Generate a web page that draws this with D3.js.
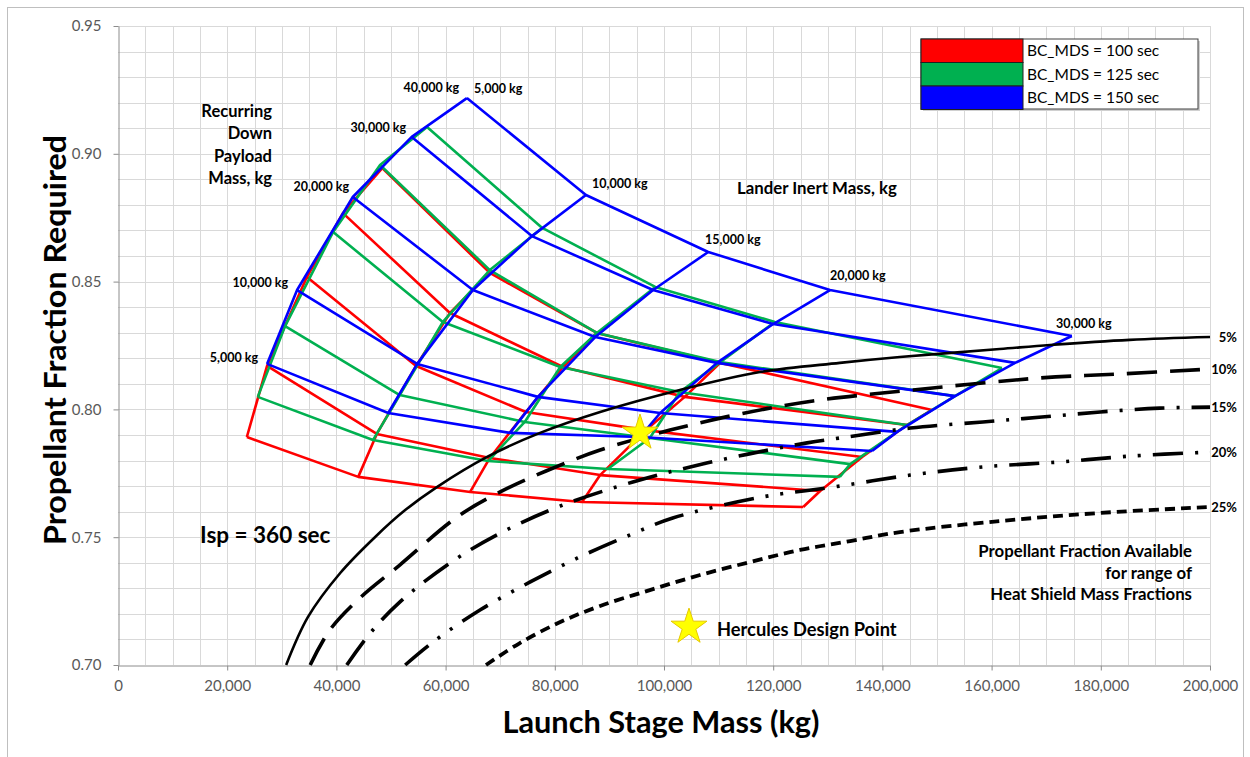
<!DOCTYPE html>
<html>
<head>
<meta charset="utf-8">
<script src="https://cdnjs.cloudflare.com/ajax/libs/d3/7.8.5/d3.min.js"></script>
<style>
  body { margin: 0; background: #fff; }
  svg text { font-family: Lato, "Open Sans", sans-serif; }
</style>
</head>
<body>
<svg id="chart" width="1250" height="757"></svg>
<script>
// ---- grid definitions -------------------------------------------------
const payloadMasses = [5000, 10000, 20000, 30000, 40000];   // recurring down payload, kg
const inertMasses   = [5000, 10000, 15000, 20000, 30000];   // lander inert mass, kg

// Launch stage mass (kg): rows = payload, columns = inert mass
const redMass = [
  [23600, 44000, 64500, 85000, 125500],
  [27300, 47400, 68100, 88300, 128600],
  [34600, 54600, 74700, 96700, 136300],
  [41200, 60800, 81500, 103800, 144500],
  [48400, 68100, 87700, 110300, 149100]
];
const redFrac = [
  [0.7892, 0.7736, 0.7677, 0.7638, 0.7618],
  [0.8170, 0.7904, 0.7810, 0.7743, 0.7681],
  [0.8518, 0.8170, 0.7990, 0.7919, 0.7814],
  [0.8768, 0.8377, 0.8166, 0.8049, 0.7939],
  [0.8944, 0.8534, 0.8299, 0.8182, 0.7998]
];
const greenMass = [
  [25600, 46700, 67800, 89700, 132200],
  [30600, 51600, 74500, 97400, 134100],
  [39400, 59500, 81000, 102900, 144500],
  [48000, 68100, 87700, 110300, 153300],
  [56600, 77700, 98400, 120300, 161900]
];
const greenFrac = [
  [0.8049, 0.7880, 0.7798, 0.7767, 0.7736],
  [0.8326, 0.8056, 0.7951, 0.7888, 0.7786],
  [0.8694, 0.8342, 0.8166, 0.8068, 0.7939],
  [0.8956, 0.8545, 0.8299, 0.8185, 0.8052],
  [0.9105, 0.8710, 0.8479, 0.8342, 0.8162]
];
const blueMass = [
  [27300, 49500, 71800, 95600, 138100],
  [32800, 54800, 76900, 99300, 142700],
  [43000, 65000, 87400, 109700, 153300],
  [53800, 75800, 98000, 120000, 164300],
  [63900, 85700, 108100, 130400, 174700]
];
const blueFrac = [
  [0.8178, 0.7986, 0.7908, 0.7892, 0.7837],
  [0.8467, 0.8178, 0.8049, 0.7986, 0.7912],
  [0.8831, 0.8467, 0.8283, 0.8182, 0.8052],
  [0.9066, 0.8678, 0.8467, 0.8334, 0.8182],
  [0.9218, 0.8839, 0.8616, 0.8467, 0.8287]
];

// Propellant fraction available for heat shield mass fractions
const pct5Mass  = [30800, 34800, 40700, 47100, 52600, 58400, 67600, 77300, 88300, 102900, 117600, 132200, 143200, 161500, 170700, 185300, 200000];
const pct5Frac  = [0.700, 0.7188, 0.7360, 0.7501, 0.7606, 0.7696, 0.7814, 0.7908, 0.7990, 0.8076, 0.8146, 0.8182, 0.8205, 0.8236, 0.8252, 0.8272, 0.8283];
const pct10Mass = [35200, 38800, 44300, 51600, 62100, 70000, 78400, 88300, 101100, 113900, 127300, 145600, 168900, 183000, 200000];
const pct10Frac = [0.700, 0.7137, 0.7262, 0.7391, 0.7579, 0.7677, 0.7759, 0.7841, 0.7919, 0.7982, 0.8033, 0.8076, 0.8123, 0.8138, 0.8158];
const pct15Mass = [41900, 46200, 51600, 60800, 70000, 81000, 94300, 104800, 115400, 126200, 132200, 145100, 158400, 169200, 179900, 190800, 200000];
const pct15Frac = [0.700, 0.7125, 0.7246, 0.7399, 0.7516, 0.7622, 0.7716, 0.7775, 0.7825, 0.7869, 0.7888, 0.7927, 0.7951, 0.7970, 0.7990, 0.8005, 0.8009];
const pct20Mass = [52600, 57700, 66300, 75500, 84600, 93800, 101600, 117900, 131000, 145100, 158400, 172200, 185900, 200000];
const pct20Frac = [0.700, 0.7090, 0.7215, 0.7325, 0.7423, 0.7509, 0.7575, 0.7657, 0.7696, 0.7743, 0.7775, 0.7794, 0.7818, 0.7833];
const pct25Mass = [67400, 73600, 81000, 88300, 97400, 106600, 115800, 124900, 134100, 143200, 161500, 179900, 200000];
const pct25Frac = [0.700, 0.7086, 0.7168, 0.7231, 0.7293, 0.7352, 0.7403, 0.7450, 0.7485, 0.7520, 0.7563, 0.7595, 0.7618];

const designPoint = { mass: 95600, frac: 0.7908 };

const xTicks = [0, 20000, 40000, 60000, 80000, 100000, 120000, 140000, 160000, 180000, 200000];
const yTicks = [0.70, 0.75, 0.80, 0.85, 0.90, 0.95];

const legendLabels = ["BC_MDS = 100 sec", "BC_MDS = 125 sec", "BC_MDS = 150 sec"];
const seriesColors = ["#ff0000", "#00b050", "#0000ff"];

// ---- layout -------------------------------------------------------------
const svg = d3.select("#chart");
const plot = { left: 118, right: 1210, top: 26, bottom: 665 };
const x = d3.scaleLinear().domain([0, 200000]).range([plot.left, plot.right]);
const y = d3.scaleLinear().domain([0.70, 0.95]).range([plot.bottom, plot.top]);

// outer frame
svg.append("rect").attr("x", 7.5).attr("y", 7.5).attr("width", 1236).attr("height", 770)
  .attr("fill", "none").attr("stroke", "#bfbfbf").attr("stroke-width", 1);

// gridlines
const grid = svg.append("g").attr("stroke", "#d9d9d9").attr("stroke-width", 1);
d3.range(5000, 200001, 5000).forEach(v => {
  grid.append("line").attr("x1", Math.round(x(v)) + 0.5).attr("x2", Math.round(x(v)) + 0.5)
    .attr("y1", plot.top).attr("y2", plot.bottom);
});
d3.range(71, 96).map(v => v / 100).forEach(v => {
  grid.append("line").attr("y1", Math.round(y(v)) + 0.5).attr("y2", Math.round(y(v)) + 0.5)
    .attr("x1", plot.left).attr("x2", plot.right);
});

// axes
const xAxis = svg.append("g").attr("transform", `translate(0,${plot.bottom + 0.5})`)
  .call(d3.axisBottom(x).tickValues(xTicks).tickFormat(d3.format(",")).tickSize(5).tickSizeOuter(0).tickPadding(10));
const yAxis = svg.append("g").attr("transform", `translate(${plot.left + 0.5},0)`)
  .call(d3.axisLeft(y).tickValues(yTicks).tickFormat(d3.format(".2f")).tickSize(5).tickSizeOuter(0).tickPadding(12));
[xAxis, yAxis].forEach(a => {
  a.selectAll("path, line").attr("stroke", "#8c8c8c");
  a.selectAll("text").attr("fill", "#595959").style("font-size", "15px").style("font-family", "Lato, sans-serif");
});

// ---- mesh ---------------------------------------------------------------
const line = d3.line().x(d => x(d[0])).y(d => y(d[1]));
const meshes = [
  { color: seriesColors[0], mass: redMass, frac: redFrac },
  { color: seriesColors[1], mass: greenMass, frac: greenFrac },
  { color: seriesColors[2], mass: blueMass, frac: blueFrac }
];
meshes.forEach(s => {
  const g = svg.append("g").attr("fill", "none").attr("stroke", s.color)
    .attr("stroke-width", 2.6).attr("stroke-linejoin", "round");
  payloadMasses.forEach((p, i) => {
    g.append("path").attr("d", line(inertMasses.map((m, j) => [s.mass[i][j], s.frac[i][j]])));
  });
  inertMasses.forEach((m, j) => {
    g.append("path").attr("d", line(payloadMasses.map((p, i) => [s.mass[i][j], s.frac[i][j]])));
  });
});

// ---- heat shield curves -----------------------------------------------
const smooth = d3.line().x(d => x(d[0])).y(d => y(d[1])).curve(d3.curveCatmullRom.alpha(0.5));
const shieldCurves = [
  { mass: pct5Mass,  frac: pct5Frac,  dash: null,              w: 2.6, label: "5%" },
  { mass: pct10Mass, frac: pct10Frac, dash: "30 13",           w: 3.6, label: "10%" },
  { mass: pct15Mass, frac: pct15Frac, dash: "30 12 3 12",      w: 3.6, label: "15%" },
  { mass: pct20Mass, frac: pct20Frac, dash: "30 12 3 12 3 12", w: 3.6, label: "20%" },
  { mass: pct25Mass, frac: pct25Frac, dash: "10 6",            w: 3.8, label: "25%" }
];
shieldCurves.forEach(c => {
  svg.append("path")
    .attr("d", smooth(c.mass.map((m, i) => [m, c.frac[i]])))
    .attr("fill", "none").attr("stroke", "#000").attr("stroke-width", c.w)
    .attr("stroke-dasharray", c.dash);
  svg.append("text").attr("x", 1237).attr("y", y(c.frac[c.frac.length - 1]) + 5)
    .attr("text-anchor", "end").style("font-size", "13px").style("font-weight", "700")
    .text(c.label);
});

// ---- design point -------------------------------------------------------
const star = d3.symbol().type(d3.symbolStar);
svg.append("path").attr("d", star.size(400)())
  .attr("transform", `translate(${x(designPoint.mass)},${y(designPoint.frac)})`)
  .attr("fill", "#ffff00").attr("stroke", "#e6c800").attr("stroke-width", 1);

// ---- annotations -------------------------------------------------------
function label(txt, px, py, size, anchor = "start", weight = 700) {
  return svg.append("text").attr("x", px).attr("y", py).attr("text-anchor", anchor)
    .style("font-size", size + "px").style("font-weight", weight).attr("fill", "#000").text(txt);
}
["Recurring", "Down", "Payload", "Mass, kg"].forEach((t, i) => label(t, 272, 117 + i * 22.3, 16.5, "end"));

label("5,000 kg", 258, 362, 12.5, "end");
label("10,000 kg", 288, 287, 12.5, "end");
label("20,000 kg", 349, 191, 12.5, "end");
label("30,000 kg", 406, 132, 12.5, "end");
label("40,000 kg", 459, 92, 12.5, "end");

label("5,000 kg", 474, 93, 12.5);
label("10,000 kg", 592, 188, 12.5);
label("15,000 kg", 705, 244, 12.5);
label("20,000 kg", 830, 280, 12.5);
label("30,000 kg", 1056, 328, 12.5);

label("Lander Inert Mass, kg", 737, 194, 16.8);
label("Isp = 360 sec", 200, 543, 22.5);

["Propellant Fraction Available", "for range of", "Heat Shield Mass Fractions"]
  .forEach((t, i) => label(t, 1192, 557 + i * 21.5, 16.8, "end"));

svg.append("path").attr("d", star.size(400)())
  .attr("transform", "translate(689,627)")
  .attr("fill", "#ffff00").attr("stroke", "#e6c800").attr("stroke-width", 1);
label("Hercules Design Point", 717, 636, 18.3);

// axis titles
svg.append("text").attr("x", 661).attr("y", 733).attr("text-anchor", "middle")
  .attr("textLength", 317).attr("lengthAdjust", "spacingAndGlyphs")
  .style("font-size", "30px").style("font-weight", "700").text("Launch Stage Mass (kg)");
svg.append("text").attr("transform", "translate(66,340) rotate(-90)").attr("text-anchor", "middle")
  .attr("textLength", 410).attr("lengthAdjust", "spacingAndGlyphs")
  .style("font-size", "30px").style("font-weight", "700").text("Propellant Fraction Required");

// ---- legend -------------------------------------------------------------
const lg = svg.append("g").attr("transform", "translate(921,39)");
lg.append("rect").attr("x", 2).attr("y", 2).attr("width", 277).attr("height", 70).attr("fill", "#d0d0d0");
lg.append("rect").attr("width", 277).attr("height", 70).attr("fill", "#fff").attr("stroke", "#404040").attr("stroke-width", 1);
legendLabels.forEach((t, i) => {
  lg.append("rect").attr("x", 0).attr("y", i * 23.5).attr("width", 102).attr("height", 23.5)
    .attr("fill", seriesColors[i]).attr("stroke", "#202020").attr("stroke-width", 1);
  lg.append("text").attr("x", 106).attr("y", i * 23.5 + 17).style("font-size", "15.5px").text(t);
});
</script>
</body>
</html>
